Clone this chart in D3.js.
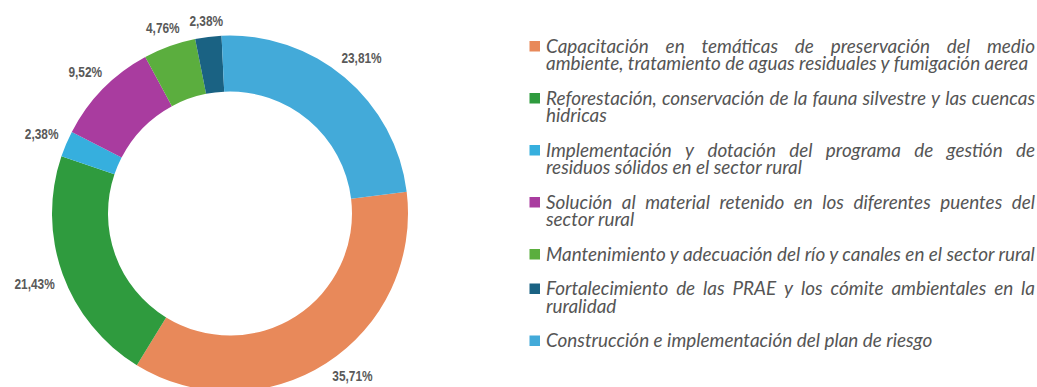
<!DOCTYPE html>
<html>
<head>
<meta charset="utf-8">
<script src="https://cdn.jsdelivr.net/npm/d3@7"></script>
<style>
  body { margin: 0; background: #ffffff; }
  svg { display: block; }
</style>
</head>
<body>
<svg id="chart" width="1037" height="387"></svg>
<script>
// Categories (line breaks of the legend entries marked with "\n")
const categories = [
  "Capacitación en temáticas de preservación del medio\nambiente, tratamiento de aguas residuales y fumigación aerea",
  "Reforestación, conservación de la fauna silvestre y las cuencas\nhidricas",
  "Implementación y dotación del programa de gestión de\nresiduos sólidos en el sector rural",
  "Solución al material retenido en los diferentes puentes del\nsector rural",
  "Mantenimiento y adecuación del río y canales en el sector rural",
  "Fortalecimiento de las PRAE y los cómite ambientales en la\nruralidad",
  "Construcción e implementación del plan de riesgo"
];
// Share of each category, in percent
const values = [35.71, 21.43, 2.38, 9.52, 4.76, 2.38, 23.81];
const colors = ["#e8895a", "#2f9b3e", "#36afde", "#a93c9f", "#5bae3e", "#1a6283", "#43aad9"];

const W = 1037, H = 387;
const svg = d3.select("#chart");

// Ring geometry
const cx = 230, cy = 213.5, R = 178, r = 122;
const start = 83 * Math.PI / 180;

const data = categories.map((c, i) => ({ name: c, value: values[i], color: colors[i] }));

const pie = d3.pie().sort(null).value(d => d.value)
  .startAngle(start).endAngle(start + 2 * Math.PI);
const arc = d3.arc().innerRadius(r).outerRadius(R);
const arcs = pie(data);

const ring = svg.append("g").attr("transform", `translate(${cx},${cy})`);
ring.selectAll("path.slice").data(arcs).join("path")
  .attr("class", "slice")
  .attr("d", arc)
  .attr("fill", d => d.data.color);

// Percentage labels outside the ring (condensed bold)
const pct = d3.formatLocale({ decimal: ",", thousands: ".", grouping: [3], currency: ["", ""] }).format(".2f");
const labelFont = "'Liberation Sans', Arial, sans-serif";
const squeeze = 0.82;
const gap = 9;

const labels = ring.selectAll("text.pct").data(arcs).join("text")
  .attr("class", "pct")
  .attr("text-anchor", "middle")
  .attr("dy", "0.36em")
  .style("font-family", labelFont)
  .style("font-weight", "bold")
  .style("font-size", "14.5px")
  .attr("fill", "#595959")
  .text(d => pct(d.data.value) + "%");

labels.each(function (d) {
  const bb = this.getBBox();
  const w = bb.width * squeeze, h = 10.5;
  const place = a => {
    const rho = R + gap + Math.abs(Math.sin(a)) * w / 2 + Math.abs(Math.cos(a)) * h / 2;
    return [Math.sin(a) * rho, -Math.cos(a) * rho];
  };
  let a = (d.startAngle + d.endAngle) / 2;
  let p = place(a);
  // slide along the slice while the label would leave the drawing area
  const maxY = H - 11 - cy;
  let guard = 0;
  while (p[1] > maxY && guard < 400) {
    const step = (Math.sin(a) > 0 ? -1 : 1) * 0.005;
    const na = a + step;
    if (na < d.startAngle || na > d.endAngle) break;
    a = na; p = place(a); guard++;
  }
  d3.select(this).attr("transform", `translate(${p[0]},${p[1]}) scale(${squeeze},1)`);
});

// Legend with justified text
const legendFont = "Lato, 'Open Sans', sans-serif";
const fontSize = 18.9;
const textX = 546, textW = 489;
const boxX = 529.5, boxSize = 10.5;
const lineStep = 17.5, itemGap = 34.5;
const firstBaseline = 52.5;

const legend = svg.append("g").attr("class", "legend");

const measurer = svg.append("text")
  .style("font-family", legendFont).style("font-style", "italic")
  .style("font-size", fontSize + "px");
const measure = s => { measurer.text(s); return measurer.node().getComputedTextLength(); };

let y = firstBaseline;
data.forEach(d => {
  const lines = d.name.split("\n");
  legend.append("rect")
    .attr("x", boxX).attr("y", y - 11.5)
    .attr("width", boxSize).attr("height", boxSize)
    .attr("fill", d.color);
  lines.forEach((line, li) => {
    const t = legend.append("text")
      .attr("y", y)
      .style("font-family", legendFont).style("font-style", "italic")
      .style("font-size", fontSize + "px")
      .attr("fill", "#555555");
    const isLast = li === lines.length - 1;
    const natural = measure(line);
    if (!isLast) {
      const words = line.split(" ");
      const widths = words.map(measure);
      const total = d3.sum(widths);
      const space = (textW - total) / (words.length - 1);
      let x = textX;
      words.forEach((wd, wi) => {
        t.append("tspan").attr("x", x).text(wd);
        x += widths[wi] + space;
      });
    } else {
      t.attr("x", textX).text(line);
      if (natural > textW) {
        t.attr("textLength", textW).attr("lengthAdjust", "spacingAndGlyphs");
      }
    }
    if (!isLast) y += lineStep;
  });
  y += itemGap;
});
measurer.remove();
</script>
</body>
</html>
